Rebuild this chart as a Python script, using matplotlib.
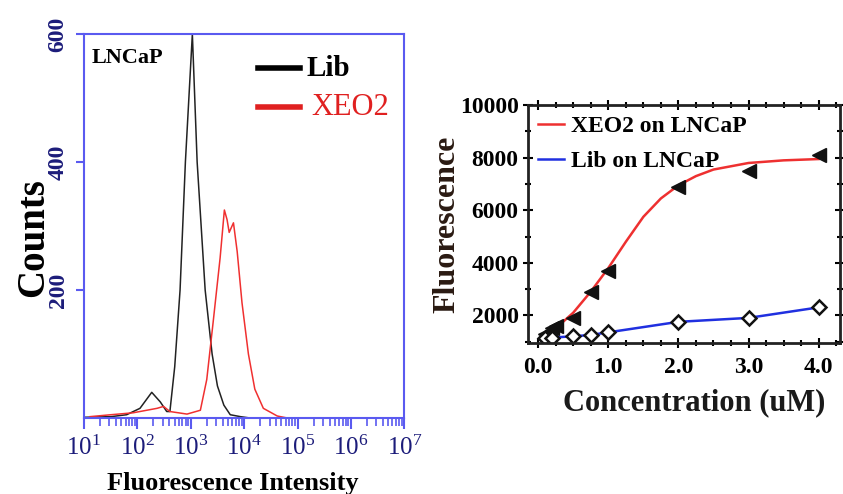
import matplotlib
matplotlib.use("Agg")
import matplotlib.pyplot as plt
from matplotlib.ticker import FixedLocator, LogLocator, NullFormatter, MultipleLocator

plt.rcParams["font.family"] = ["Liberation Serif", "DejaVu Serif"]
plt.rcParams["mathtext.fontset"] = "custom"
plt.rcParams["mathtext.rm"] = "Liberation Serif"
plt.rcParams["mathtext.it"] = "Liberation Serif:italic"
plt.rcParams["mathtext.bf"] = "Liberation Serif:bold"

# --- flow cytometry histogram (left) ---
lib_intensity = [10, 32, 63, 112, 186, 269, 355, 407, 501, 631, 794, 1072,
                 1318, 1862, 2512, 3162, 4169, 5495, 8511, 12600, 10**7]
lib_counts = [1, 2, 5, 15, 40, 25, 10, 10, 80, 200, 400, 600,
              400, 200, 100, 50, 20, 5, 2, 0, 0]

xeo2_intensity = [13, 32, 83, 234, 309, 407, 851, 1514, 1995, 2630, 3548, 4266,
                  4786, 5248, 6310, 7413, 9120, 12020, 15850, 22900, 41700, 63100, 10**7]
xeo2_counts = [2, 5, 8, 15, 18, 10, 6, 12, 60, 150, 250, 325,
               310, 290, 305, 260, 180, 100, 45, 15, 3, 0, 0]

hist_xticks = [10**k for k in range(1, 8)]
hist_xticklabels = [rf"$10^{{{k}}}$" for k in range(1, 8)]
hist_yticks = [200, 400, 600]

# --- binding curve (right) ---
conc = [0.1, 0.2, 0.25, 0.5, 0.75, 1.0, 2.0, 3.0, 4.0]
xeo2_fluor = [1300, 1500, 1600, 1900, 2900, 3700, 6900, 7500, 8100]
lib_conc = [0.1, 0.2, 0.5, 0.75, 1.0, 2.0, 3.0, 4.0]
lib_fluor = [1150, 1150, 1200, 1250, 1350, 1750, 1900, 2300]

fit_conc = [0.1, 0.25, 0.5, 0.75, 1.0, 1.25, 1.5, 1.75, 2.0, 2.25, 2.5, 3.0, 3.5, 4.0]
fit_fluor = [1250, 1500, 2100, 2900, 3800, 4800, 5750, 6450, 6950, 7300, 7550, 7800, 7900, 7950]

BLUE_AX = "#5a5af0"
NAVY = "#1c1c7a"

fig = plt.figure(figsize=(8.43, 4.94), dpi=100)

# left panel
ax1 = fig.add_axes([0.0996, 0.154, 0.380, 0.777])
ax1.plot(lib_intensity, lib_counts, color="#222222", lw=1.1)
ax1.plot(xeo2_intensity, xeo2_counts, color="#f03030", lw=1.1)
ax1.set_xscale("log")
ax1.set_xlim(10, 10**7)
ax1.set_ylim(0, 600)
for s in ax1.spines.values():
    s.set_color(BLUE_AX)
    s.set_linewidth(1.5)
ax1.xaxis.set_major_locator(FixedLocator(hist_xticks))
ax1.set_xticklabels(hist_xticklabels)
ax1.xaxis.set_minor_locator(LogLocator(base=10, subs=range(2, 10), numticks=20))
ax1.xaxis.set_minor_formatter(NullFormatter())
ax1.set_yticks(hist_yticks)
ax1.tick_params(axis="x", which="major", colors=BLUE_AX, labelcolor=NAVY,
                labelsize=18, length=8, width=1.5, direction="out", pad=5)
ax1.tick_params(axis="x", which="minor", colors=BLUE_AX, length=6, width=1.2, direction="out")
ax1.tick_params(axis="y", colors=BLUE_AX, labelcolor=NAVY, labelsize=17,
                length=6, width=1.5, direction="out", pad=5)
for lbl in ax1.get_yticklabels():
    lbl.set_rotation(90)
    lbl.set_va("center")
    lbl.set_fontweight("bold")
ax1.set_ylabel("Counts", fontsize=28, fontweight="bold")
ax1.yaxis.set_label_coords(-0.10, 0.47)
ax1.set_xlabel("Fluorescence Intensity", fontsize=19, fontweight="bold")
ax1.xaxis.set_label_coords(0.465, -0.14)
ax1.text(0.025, 0.965, "LNCaP", transform=ax1.transAxes, fontsize=16,
         fontweight="bold", va="top", ha="left")
ax1.plot([0.544, 0.675], [0.911, 0.911], transform=ax1.transAxes, color="black", lw=4)
ax1.text(0.695, 0.911, "Lib", transform=ax1.transAxes, fontsize=21,
         fontweight="bold", va="center", ha="left")
ax1.plot([0.544, 0.675], [0.81, 0.81], transform=ax1.transAxes, color="#e02020", lw=4)
ax1.text(0.71, 0.81, "XEO2", transform=ax1.transAxes, fontsize=22,
         color="#e02020", va="center", ha="left")

# right panel
ax2 = fig.add_axes([0.626, 0.306, 0.370, 0.481])
ax2.plot(fit_conc, fit_fluor, color="#ee3030", lw=1.8, label="XEO2 on LNCaP")
ax2.plot(lib_conc, lib_fluor, color="#2030e0", lw=1.8, label="Lib on LNCaP")
ax2.plot(conc, xeo2_fluor, ls="none", marker="<", ms=10, color="#111111")
ax2.plot(lib_conc, lib_fluor, ls="none", marker="D", ms=7, mfc="white",
         mec="#111111", mew=1.8)
ax2.set_xlim(-0.15, 4.3)
ax2.set_ylim(950, 10000)
ax2.set_xticks([0, 1, 2, 3, 4])
ax2.set_xticklabels(["0.0", "1.0", "2.0", "3.0", "4.0"])
ax2.set_yticks([2000, 4000, 6000, 8000, 10000])
ax2.xaxis.set_minor_locator(MultipleLocator(0.25))
ax2.yaxis.set_minor_locator(MultipleLocator(1000))
for s in ax2.spines.values():
    s.set_linewidth(2)
    s.set_color("#222222")
ax2.tick_params(which="both", direction="inout", top=True, right=True,
                labelsize=17, width=1.5)
ax2.tick_params(which="major", length=7)
ax2.tick_params(which="minor", length=4)
ax2.tick_params(axis="x", pad=7)
ax2.tick_params(axis="y", pad=3)
for lbl in ax2.get_xticklabels() + ax2.get_yticklabels():
    lbl.set_fontweight("bold")
ax2.set_ylabel("Fluorescence", fontsize=23, fontweight="bold", color="#2a1a12")
ax2.yaxis.set_label_coords(-0.212, 0.5)
ax2.set_xlabel("Concentration (uM)", fontsize=22, fontweight="bold", color="#1a1a1a")
ax2.xaxis.set_label_coords(0.535, -0.19)
leg = ax2.legend(loc="upper left", frameon=False, fontsize=17, handlelength=1.1,
                 handletextpad=0.3, borderaxespad=0.15, borderpad=0.3, labelspacing=0.55)
for t in leg.get_texts():
    t.set_fontweight("bold")

fig.savefig("out.png", dpi=100)
